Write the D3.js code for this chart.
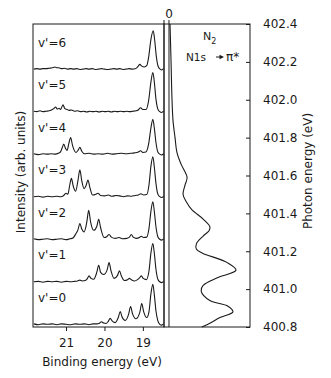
<!DOCTYPE html>
<html><head><meta charset="utf-8">
<script src="https://cdn.jsdelivr.net/npm/d3@7"></script>
<style>
html,body{margin:0;padding:0;background:#fff;}
svg{display:block;font-family:"DejaVu Sans",Verdana,sans-serif;}
</style></head>
<body><svg id="c" width="331" height="378"></svg>
<script>
// ---- data ----
const vLabels = ["v'=0","v'=1","v'=2","v'=3","v'=4","v'=5","v'=6"];
const offsets = [0,1,2,3,4,5,6];
const trace0 = [[21.84,0.01],[21.72,-0.01],[21.60,0.01],[21.48,0.00],[21.36,0.01],[21.24,-0.01],[21.12,0.01],[21.00,0.00],[20.88,-0.01],[20.76,0.01],[20.64,0.00],[20.52,0.01],[20.40,-0.01],[20.30,0.01],[20.20,0.01],[20.14,0.02],[20.08,0.06],[20.02,0.03],[19.96,0.02],[19.90,0.07],[19.85,0.14],[19.80,0.08],[19.72,0.04],[19.64,0.16],[19.59,0.30],[19.54,0.17],[19.46,0.09],[19.37,0.24],[19.32,0.42],[19.27,0.25],[19.18,0.13],[19.08,0.28],[19.03,0.49],[18.98,0.30],[18.90,0.16],[18.84,0.30],[18.79,0.72],[18.74,0.94],[18.70,0.68],[18.66,0.32],[18.61,0.08],[18.56,0.00],[18.51,-0.02],[18.46,0.01]];
const trace1 = [[21.84,0.00],[21.72,0.01],[21.60,-0.01],[21.48,0.01],[21.36,0.00],[21.24,0.01],[21.12,-0.01],[21.00,0.01],[20.88,0.00],[20.78,0.01],[20.70,0.02],[20.64,0.04],[20.58,0.02],[20.50,0.03],[20.45,0.07],[20.40,0.14],[20.35,0.08],[20.28,0.06],[20.20,0.22],[20.15,0.39],[20.10,0.22],[20.02,0.17],[19.93,0.28],[19.88,0.45],[19.83,0.26],[19.75,0.08],[19.66,0.15],[19.61,0.26],[19.56,0.14],[19.48,0.03],[19.40,0.05],[19.35,0.08],[19.30,0.05],[19.22,0.02],[19.14,0.05],[19.08,0.10],[19.04,0.14],[18.99,0.08],[18.91,0.05],[18.84,0.26],[18.79,0.68],[18.74,0.90],[18.70,0.66],[18.66,0.30],[18.61,0.06],[18.56,0.00],[18.51,-0.02],[18.46,0.01]];
const trace2 = [[21.84,0.01],[21.72,-0.01],[21.60,0.00],[21.48,0.01],[21.36,-0.01],[21.24,0.00],[21.12,0.01],[21.00,-0.01],[20.90,0.01],[20.82,0.03],[20.75,0.12],[20.69,0.22],[20.64,0.37],[20.59,0.24],[20.53,0.17],[20.46,0.40],[20.41,0.68],[20.36,0.40],[20.28,0.21],[20.20,0.30],[20.15,0.47],[20.10,0.27],[20.01,0.04],[19.94,0.06],[19.88,0.11],[19.82,0.05],[19.72,0.02],[19.62,0.04],[19.52,0.01],[19.42,0.02],[19.35,0.05],[19.30,0.11],[19.25,0.05],[19.17,0.02],[19.09,0.04],[19.04,0.07],[18.98,0.04],[18.90,0.05],[18.84,0.26],[18.79,0.66],[18.74,0.88],[18.70,0.64],[18.66,0.30],[18.61,0.06],[18.56,0.00],[18.51,-0.02],[18.46,0.01]];
const trace3 = [[21.84,0.00],[21.72,0.01],[21.60,-0.01],[21.48,0.01],[21.36,0.00],[21.24,0.01],[21.14,0.00],[21.06,0.03],[21.00,0.08],[20.95,0.06],[20.91,0.24],[20.86,0.43],[20.81,0.24],[20.75,0.13],[20.69,0.38],[20.64,0.63],[20.59,0.37],[20.53,0.19],[20.48,0.26],[20.43,0.39],[20.38,0.22],[20.31,0.04],[20.22,0.06],[20.17,0.08],[20.10,0.03],[20.00,0.02],[19.90,0.04],[19.80,0.01],[19.70,0.03],[19.60,0.02],[19.50,0.00],[19.40,0.02],[19.30,0.01],[19.20,0.03],[19.12,0.04],[19.05,0.07],[18.98,0.04],[18.90,0.05],[18.84,0.28],[18.79,0.72],[18.74,0.94],[18.70,0.68],[18.66,0.32],[18.61,0.06],[18.56,0.00],[18.51,-0.02],[18.46,0.01]];
const trace4 = [[21.84,0.01],[21.72,-0.01],[21.60,0.01],[21.48,0.00],[21.38,0.01],[21.28,0.00],[21.20,0.02],[21.14,0.06],[21.10,0.15],[21.06,0.235],[21.01,0.13],[20.97,0.09],[20.93,0.24],[20.88,0.39],[20.83,0.20],[20.74,0.04],[20.68,0.10],[20.64,0.16],[20.59,0.07],[20.52,0.01],[20.40,0.02],[20.28,0.00],[20.16,0.01],[20.04,0.00],[19.92,0.02],[19.80,0.00],[19.68,0.01],[19.56,0.02],[19.44,0.01],[19.32,0.02],[19.22,0.03],[19.12,0.05],[19.06,0.08],[19.00,0.04],[18.92,0.05],[18.85,0.24],[18.79,0.62],[18.74,0.82],[18.70,0.60],[18.66,0.28],[18.61,0.05],[18.56,0.00],[18.51,-0.02],[18.46,0.01]];
const trace5 = [[21.84,0.01],[21.76,0.00],[21.68,0.02],[21.60,0.00],[21.52,0.01],[21.44,0.02],[21.38,0.04],[21.32,0.07],[21.27,0.11],[21.23,0.06],[21.18,0.08],[21.14,0.05],[21.08,0.16],[21.03,0.07],[20.97,0.05],[20.92,0.03],[20.86,0.04],[20.78,0.01],[20.70,0.02],[20.62,0.00],[20.54,0.01],[20.46,-0.01],[20.38,0.01],[20.30,0.00],[20.22,0.01],[20.14,-0.01],[20.06,0.01],[19.98,0.00],[19.90,0.01],[19.82,-0.01],[19.74,0.01],[19.66,0.00],[19.58,0.01],[19.50,0.00],[19.42,0.01],[19.34,0.00],[19.26,0.01],[19.18,0.02],[19.12,0.04],[19.06,0.09],[19.00,0.05],[18.92,0.05],[18.85,0.26],[18.79,0.70],[18.74,0.92],[18.70,0.68],[18.66,0.30],[18.61,0.06],[18.56,0.00],[18.51,-0.02],[18.46,0.01]];
const trace6 = [[21.84,0.00],[21.76,0.01],[21.68,0.00],[21.60,0.01],[21.52,0.01],[21.44,0.02],[21.36,0.03],[21.29,0.05],[21.24,0.03],[21.19,0.03],[21.12,0.01],[21.04,0.02],[20.96,0.00],[20.88,0.01],[20.80,0.00],[20.72,0.01],[20.64,-0.01],[20.56,0.00],[20.48,0.01],[20.40,0.00],[20.32,0.01],[20.24,-0.01],[20.16,0.00],[20.08,0.01],[20.00,0.00],[19.92,-0.01],[19.84,0.00],[19.76,0.01],[19.68,0.00],[19.60,0.01],[19.52,-0.01],[19.44,0.00],[19.36,0.01],[19.28,0.00],[19.20,0.01],[19.16,0.03],[19.12,0.07],[19.08,0.11],[19.03,0.07],[18.96,0.05],[18.90,0.08],[18.85,0.28],[18.79,0.70],[18.73,0.90],[18.69,0.66],[18.65,0.30],[18.60,0.06],[18.55,0.00],[18.51,-0.02],[18.46,0.01]];
const traces = [trace0,trace1,trace2,trace3,trace4,trace5,trace6];
// absorption spectrum: [photon energy (eV), intensity]
const absorption = [[402.40,0.015],[402.21,0.03],[402.00,0.045],[401.89,0.06],[401.80,0.09],[401.72,0.12],[401.66,0.18],[401.59,0.27],[401.55,0.24],[401.50,0.21],[401.46,0.26],[401.42,0.34],[401.37,0.51],[401.33,0.61],[401.31,0.60],[401.28,0.51],[401.24,0.41],[401.21,0.41],[401.19,0.50],[401.14,0.87],[401.10,1.00],[401.06,0.72],[401.02,0.51],[400.99,0.48],[400.94,0.61],[400.91,0.88],[400.88,0.955],[400.85,0.76],[400.82,0.61],[400.80,0.49]];
const bindingTicks = [21,20,19];
const photonTicks = [400.8,401.0,401.2,401.4,401.6,401.8,402.0,402.2,402.4];

// ---- chart ----
const svg = d3.select("#c");
const ink = "#1a1a1a";
const FONT = "DejaVu Sans, Verdana, sans-serif";
const xE = d3.scaleLinear().domain([21.86,18.45]).range([33,164]);
const yI = d3.scaleLinear().domain([-0.063,7.06]).range([327,24]);
const yP = d3.scaleLinear().domain([400.8,402.4]).range([327,24]);
const xA = d3.scaleLinear().domain([-0.0746,1.209]).range([164,250]);

// traces
const line = d3.line().curve(d3.curveMonotoneX);
traces.forEach((t,i)=>{
  svg.append("path")
    .attr("d", line(t.map(d=>[xE(d[0]), yI(d[1]+offsets[i])])))
    .attr("fill","none").attr("stroke",ink).attr("stroke-width",1.1);
  svg.append("text").attr("x",38).attr("y",yI(offsets[i]+0.53))
    .attr("font-size",12).attr("fill",ink).text(vLabels[i]);
});

// absorption
const aLine = d3.line().curve(d3.curveCatmullRom.alpha(0.5))
  .x(d=>xA(d[1])).y(d=>yP(d[0]));
svg.append("path").attr("d",aLine(absorption))
  .attr("fill","none").attr("stroke",ink).attr("stroke-width",1.1);

// frames
svg.append("rect").attr("x",33).attr("y",24).attr("width",131).attr("height",303)
  .attr("fill","none").attr("stroke",ink).attr("stroke-width",1);
svg.append("rect").attr("x",164).attr("y",24).attr("width",86).attr("height",303)
  .attr("fill","none").attr("stroke",ink).attr("stroke-width",1);
// zero line
svg.append("line").attr("x1",xA(0)).attr("x2",xA(0)).attr("y1",20).attr("y2",327)
  .attr("stroke",ink).attr("stroke-width",1);
svg.append("line").attr("x1",164).attr("x2",164).attr("y1",20).attr("y2",24)
  .attr("stroke",ink).attr("stroke-width",1);
svg.append("text").attr("x",xA(0)).attr("y",18).attr("text-anchor","middle")
  .attr("font-size",12).attr("fill",ink).text("0");

// bottom axis
const gb = svg.append("g").attr("transform","translate(0,327)")
  .call(d3.axisBottom(xE).tickValues(bindingTicks).tickSize(4).tickPadding(7).tickFormat(d3.format("d")));
gb.select(".domain").remove();
gb.selectAll("text").attr("font-size",12).attr("font-family",FONT).attr("fill",ink);
gb.selectAll("line").attr("stroke",ink);

// right axis
const gr = svg.append("g").attr("transform","translate(250,0)")
  .call(d3.axisRight(yP).tickValues(photonTicks).tickSize(-4).tickPadding(13).tickFormat(d3.format(".1f")));
gr.select(".domain").remove();
gr.selectAll("text").attr("font-size",12).attr("font-family",FONT).attr("fill",ink);
gr.selectAll("line").attr("stroke",ink);

// axis titles
svg.append("text").attr("x",102).attr("y",366).attr("text-anchor","middle")
  .attr("font-size",12).attr("fill",ink).text("Binding energy (eV)");
svg.append("text").attr("transform","translate(25,172) rotate(-90)").attr("text-anchor","middle")
  .attr("font-size",12).attr("fill",ink).text("Intensity (arb. units)");
svg.append("text").attr("transform","translate(312,171) rotate(-90)").attr("text-anchor","middle")
  .attr("font-size",12).attr("fill",ink).text("Photon energy (eV)");

// annotation
const n2 = svg.append("text").attr("x",203).attr("y",40).attr("font-size",11).attr("fill",ink);
n2.append("tspan").text("N");
n2.append("tspan").attr("font-size",8).attr("dy",4).text("2");
svg.append("text").attr("x",186).attr("y",61).attr("font-size",10.5).attr("fill",ink).text("N1s");
svg.append("line").attr("x1",216).attr("x2",220).attr("y1",57).attr("y2",57).attr("stroke",ink).attr("stroke-width",1);
svg.append("path").attr("d","M219.5,54.7 L224,57 L219.5,59.3 Z").attr("fill",ink);
svg.append("text").attr("x",226).attr("y",61).attr("font-size",12).attr("fill",ink).text("π*");
</script>
</body></html>
